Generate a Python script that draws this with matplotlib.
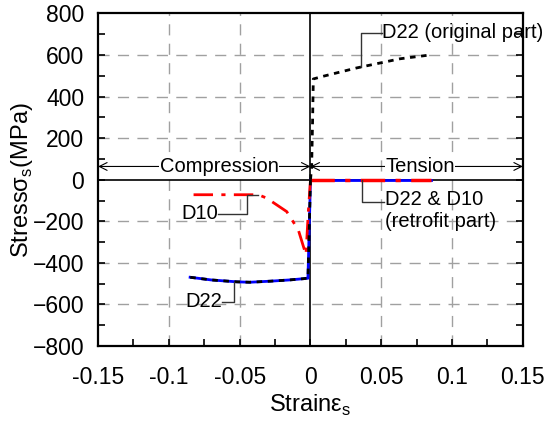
import numpy as np
import matplotlib
matplotlib.use('Agg')
import matplotlib.pyplot as plt
from matplotlib.ticker import MultipleLocator

plt.rcParams['font.family'] = 'Liberation Sans'
plt.rcParams['mathtext.fontset'] = 'custom'
plt.rcParams['mathtext.rm'] = 'Liberation Sans'

# D22 original bar: tension branch and compression branch (strain, MPa)
d22_ten_strain = [0.0, 0.0008, 0.0015, 0.002, 0.009, 0.0326, 0.0632, 0.084]
d22_ten_stress = [0, 60, 290, 485, 498, 538, 582, 600]
d22_com_strain = [0.0, -0.0018, -0.0027, -0.0051, -0.015, -0.0286, -0.043, -0.052, -0.07, -0.085]
d22_com_stress = [0, -474, -474, -476, -482, -488, -493, -491, -482, -469]

# Retrofit bars (no tension capacity)
rf_ten_strain = [0.0, 0.085]
rf_ten_stress = [0, 0]
d10_com_strain = [0.0, -0.0015, -0.0032, -0.0086, -0.0168, -0.031, -0.0368, -0.085]
d10_com_stress = [0, -150, -361, -241, -153, -88, -72, -72]

xticks = [-0.15, -0.1, -0.05, 0, 0.05, 0.1, 0.15]
xticklabels = ['-0.15', '-0.1', '-0.05', '0', '0.05', '0.1', '0.15']
yticks = [-800, -600, -400, -200, 0, 200, 400, 600, 800]

fig = plt.figure(figsize=(5.51, 4.21), dpi=100)
ax = fig.add_axes([0.178, 0.178, 0.771, 0.790])

# grid at major ticks, solid lines through the origin
for gx in [-0.1, -0.05, 0.05, 0.1]:
    ax.axvline(gx, color='#a0a0a0', lw=1.0, ls=(0, (8, 6)), zorder=0)
for gy in [-600, -400, -200, 200, 400, 600]:
    ax.axhline(gy, color='#a0a0a0', lw=1.0, ls=(0, (8, 6)), zorder=0)
ax.axhline(0, color='black', lw=1.2, zorder=1)
ax.axvline(0, color='black', lw=1.2, zorder=1)

# D22 retrofit (blue), D10 retrofit (red), D22 original (black)
ax.plot(d22_com_strain, d22_com_stress, color='blue', lw=2.0, zorder=3)
ax.plot(rf_ten_strain, rf_ten_stress, color='blue', lw=2.0, zorder=3)
ax.plot(d10_com_strain, d10_com_stress, color='red', lw=2.0, ls=(0, (7, 3, 1.5, 3)), zorder=4)
ax.plot(rf_ten_strain, rf_ten_stress, color='red', lw=2.5, ls=(0, (7, 3, 1.5, 3)), zorder=4)
ax.plot(d22_com_strain, d22_com_stress, color='black', lw=2.0, ls=(0, (2, 2)), zorder=5)
ax.plot(d22_ten_strain, d22_ten_stress, color='black', lw=2.0, ls=(0, (2, 2)), zorder=5)

ax.set_xlim(-0.15, 0.15)
ax.set_ylim(-800, 800)
ax.set_xticks(xticks)
ax.set_xticklabels(xticklabels)
ax.set_yticks(yticks)
ax.xaxis.set_minor_locator(MultipleLocator(0.025))
ax.yaxis.set_minor_locator(MultipleLocator(100))
ax.tick_params(which='both', direction='in', length=5, width=1.2, labelsize=16.5,
               right=True, top=False)
ax.tick_params(axis='x', pad=14)
ax.tick_params(axis='y', pad=10)
for s in ax.spines.values():
    s.set_linewidth(1.6)

ax.set_xlabel('Strainε$_{\\rm s}$', fontsize=17, labelpad=3)
ax.set_ylabel('Stressσ$_{\\rm s}$(MPa)', fontsize=17, labelpad=-2)

# compression / tension range arrows
arr = dict(arrowstyle='<->', color='black', lw=0.8, mutation_scale=14, shrinkA=0, shrinkB=0)
ax.annotate('', xy=(-0.15, 64), xytext=(0, 64), arrowprops=arr, zorder=6)
ax.annotate('', xy=(0, 64), xytext=(0.15, 64), arrowprops=arr, zorder=6)
box = dict(facecolor='white', edgecolor='none', pad=0.5)
ax.text(-0.0646, 64, 'Compression', fontsize=14.5, ha='center', va='center', bbox=box, zorder=7)
ax.text(0.0773, 64, 'Tension', fontsize=14.5, ha='center', va='center', bbox=box, zorder=7)

# leader lines and labels
lead = dict(color='#333333', lw=1.0, zorder=6, clip_on=False)
ax.plot([-0.0652, -0.0445, -0.0445, -0.037], [-164, -164, -72, -72], **lead)
ax.text(-0.0652, -164, 'D10', fontsize=14.5, ha='right', va='center')
ax.plot([-0.0625, -0.0538, -0.0538], [-586, -586, -492], **lead)
ax.text(-0.0625, -586, 'D22', fontsize=14.5, ha='right', va='center')
ax.plot([0.0508, 0.0354, 0.0354], [707, 707, 541], **lead)
ax.text(0.0508, 707, 'D22 (original part)', fontsize=14.5, ha='left', va='center', clip_on=False)
ax.plot([0.0361, 0.0361, 0.0522], [0, -109, -109], **lead)
ax.text(0.0526, -96, 'D22 & D10', fontsize=14.5, ha='left', va='center')
ax.text(0.0526, -201, '(retrofit part)', fontsize=14.5, ha='left', va='center')

plt.savefig('out.png', dpi=100)
